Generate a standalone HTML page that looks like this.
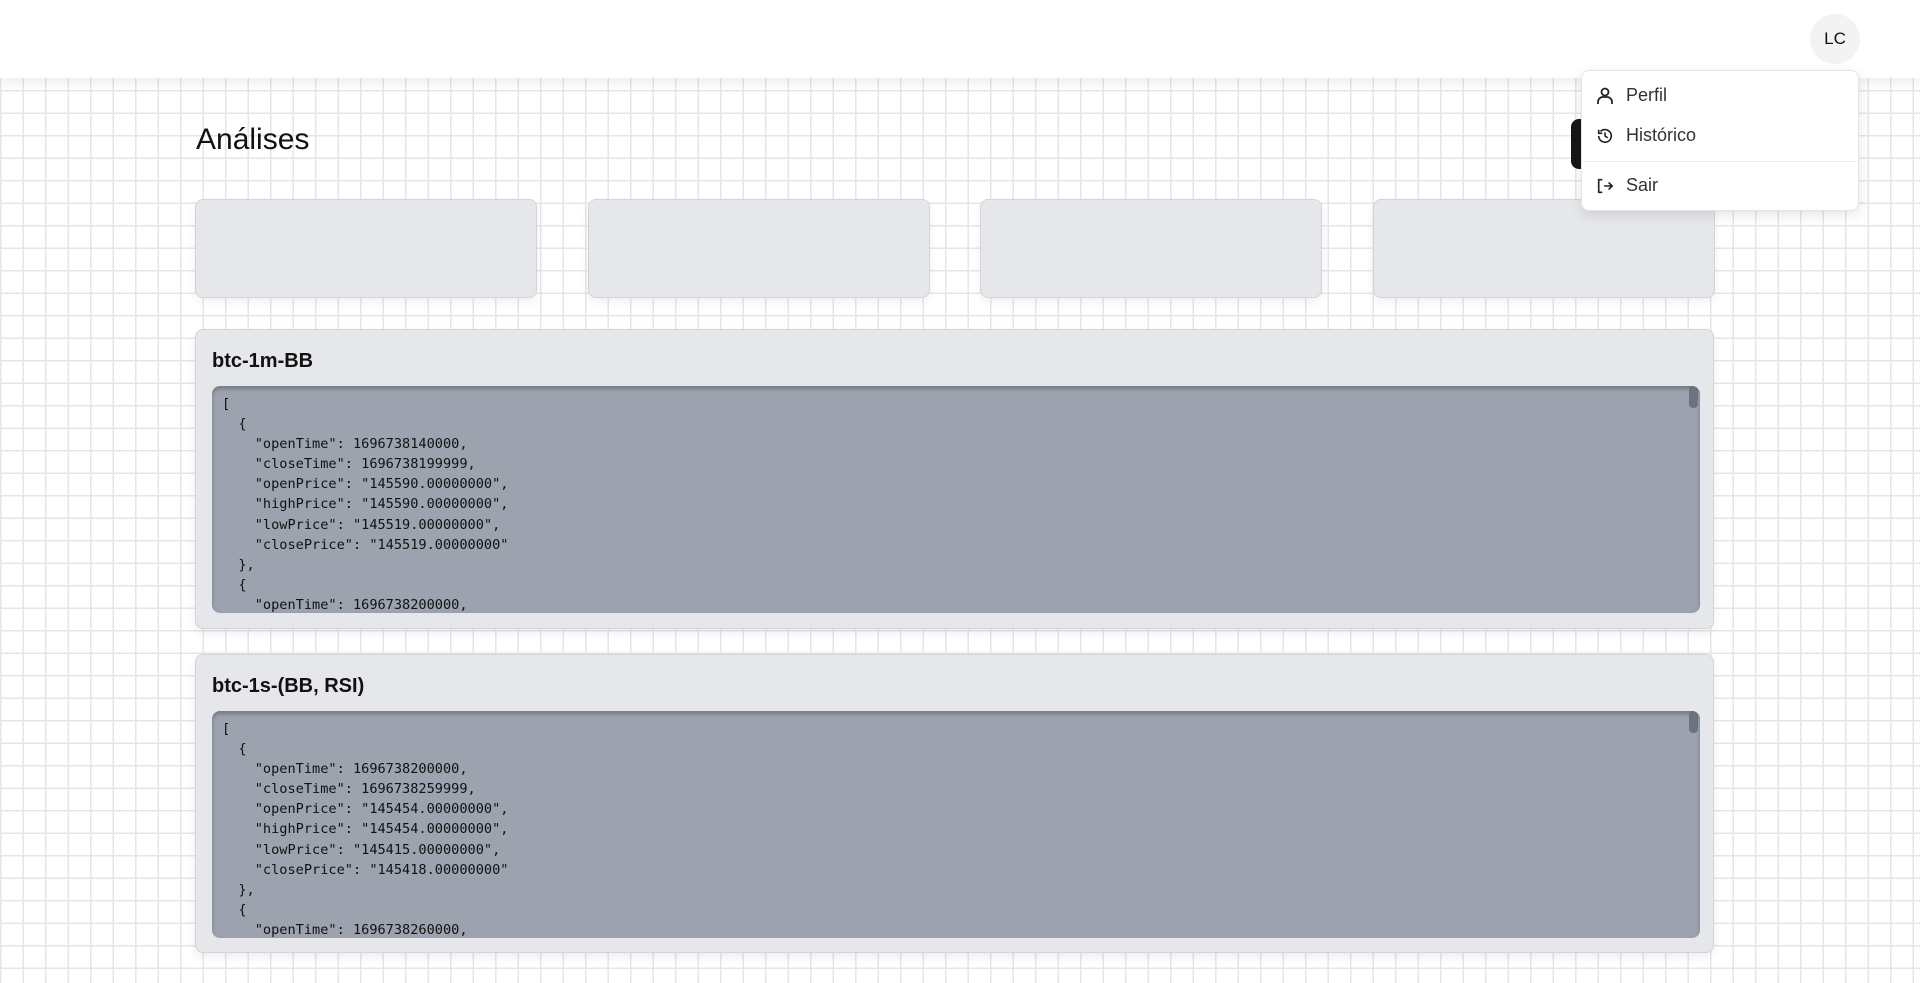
<!DOCTYPE html>
<html><head><meta charset="utf-8"><style>
*{box-sizing:border-box;margin:0;padding:0}
body{width:1920px;height:983px;overflow:hidden;font-family:"Liberation Sans",sans-serif;background-color:#fff;
background-image:linear-gradient(#e6e6e6 1.5px,transparent 1.5px),linear-gradient(90deg,#e6e6e6 1.5px,transparent 1.5px);background-size:22.5px 22.5px;position:relative}
.header{position:absolute;left:0;top:0;width:1920px;height:78px;background:#fff;box-shadow:0 4px 12px rgba(0,0,0,.08);z-index:2}
.avatar{position:absolute;left:1810px;top:14px;width:50px;height:50px;border-radius:50%;background:#f3f3f3;font-size:17px;line-height:50px;text-align:center;color:#111}
h1{position:absolute;left:196px;top:123px;font-size:30px;font-weight:400;color:#111}
.blackbtn{position:absolute;left:1571px;top:119px;width:60px;height:50px;background:#161616;border-radius:8px}
.card{position:absolute;top:199px;width:342px;height:99px;background:#e5e7eb;border:1px solid #d1d5db;border-radius:8px;box-shadow:0 4px 10px rgba(0,0,0,.06)}
.panel{position:absolute;left:195px;width:1519px;background:#e5e7eb;border:1px solid #d1d5db;border-radius:8px;box-shadow:0 4px 10px rgba(0,0,0,.07)}
.panel h2{position:absolute;left:16px;top:20px;font-size:20px;font-weight:700;color:#111}
.code{position:absolute;left:16px;top:56px;width:1488px;height:227px;background:#9ca3af;border-radius:8px;box-shadow:inset 0 3px 4px rgba(0,0,0,.25);overflow:hidden;padding:8px 10px;font-family:"DejaVu Sans Mono","Liberation Mono",monospace;font-size:13.6px;line-height:20.1px;color:#111;white-space:pre}
.sb{position:absolute;right:2px;top:0;width:9px;height:22px;background:#6b7280;border-radius:4px}
.menu{position:absolute;left:1581px;top:70px;width:278px;height:141px;background:#fff;border:1px solid #e5e5e5;border-radius:8px;box-shadow:0 4px 12px rgba(0,0,0,.1);z-index:3}
.mi{position:absolute;left:14px;font-size:18px;color:#333;display:flex;align-items:center}
.mi svg{margin-right:12px}
.sep{position:absolute;left:0;top:90px;width:100%;height:1px;background:#ededed}
</style></head><body>
<div class="header">
<div class="avatar">LC</div>
</div>
<h1>Análises</h1>
<div class="blackbtn"></div>
<div class="card" style="left:195px"></div>
<div class="card" style="left:588px"></div>
<div class="card" style="left:980px"></div>
<div class="card" style="left:1373px"></div>
<div class="panel" style="top:329px;height:300px">
<h2>btc-1m-BB</h2>
<div class="code">[
  {
    "openTime": 1696738140000,
    "closeTime": 1696738199999,
    "openPrice": "145590.00000000",
    "highPrice": "145590.00000000",
    "lowPrice": "145519.00000000",
    "closePrice": "145519.00000000"
  },
  {
    "openTime": 1696738200000,<div class="sb"></div></div>
</div>
<div class="panel" style="top:654px;height:299px">
<h2>btc-1s-(BB, RSI)</h2>
<div class="code">[
  {
    "openTime": 1696738200000,
    "closeTime": 1696738259999,
    "openPrice": "145454.00000000",
    "highPrice": "145454.00000000",
    "lowPrice": "145415.00000000",
    "closePrice": "145418.00000000"
  },
  {
    "openTime": 1696738260000,<div class="sb"></div></div>
</div>
<div class="menu">
<div class="mi" style="top:14px"><svg width="18" height="20" viewBox="0 0 18 20" fill="none" stroke="#222" stroke-width="1.8"><circle cx="9" cy="6" r="3.5"/><path d="M2 18v-2a5 5 0 0 1 5-5h4a5 5 0 0 1 5 5v2"/></svg>Perfil</div>
<div class="mi" style="top:54px"><svg width="18" height="20" viewBox="0 0 20 20" fill="none" stroke="#222" stroke-width="1.8"><path d="M3 10a7 7 0 1 0 2-5M3 3v4h4"/><path d="M10 6v4l3 2"/></svg>Histórico</div>
<div class="sep"></div>
<div class="mi" style="top:104px"><svg width="18" height="20" viewBox="0 0 20 20" fill="none" stroke="#222" stroke-width="1.8"><path d="M7 3H3v14h4M9 10h9M14 6l4 4-4 4"/></svg>Sair</div>
</div>
</body></html>
